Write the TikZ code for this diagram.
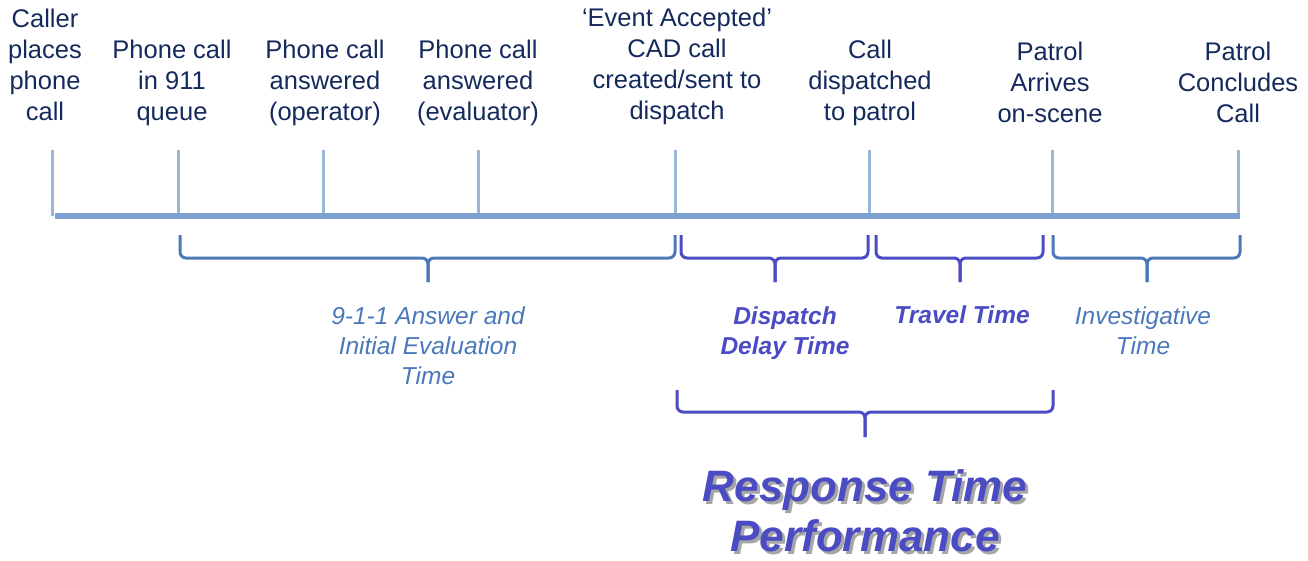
\documentclass[tikz,border=0pt]{standalone}
\usepackage{fontspec}
\setmainfont{Liberation Sans}
\usepackage{tikz}
\usetikzlibrary{positioning}

\definecolor{navy}{HTML}{152A5C}
\definecolor{axisblue}{HTML}{7B9FCF}
\definecolor{tickblue}{HTML}{9AB5D8}
\definecolor{braceblue}{HTML}{4A78B8}
\definecolor{bracepurple}{HTML}{4B4BC4}

\tikzset{
  event/.style={anchor=north, align=center, inner sep=0pt, text=navy,
    font=\fontsize{25.5}{31}\selectfont},
  span/.style={anchor=north, align=center, inner sep=0pt,
    font=\fontsize{24.5}{30}\selectfont\itshape},
  brace/.style={line width=3pt, rounded corners=6pt}
}

\begin{document}
\begin{tikzpicture}[x=1pt,y=-1pt]
\useasboundingbox (0,0) rectangle (1308,560);

% events along the time line
\node[event] (caller) at (45,9) {Caller\\places\\phone\\call};
\node[event] (queue) at (172,40) {Phone call\\in 911\\queue};
\node[event] (operator) at (325,40) {Phone call\\answered\\(operator)};
\node[event] (evaluator) at (478,40) {Phone call\\answered\\(evaluator)};
\node[event] (accepted) at (677,8) {`Event Accepted'\\CAD call\\created/sent to\\dispatch};
\node[event] (dispatched) at (870,40) {Call\\dispatched\\to patrol};
\node[event] (arrives) at (1050,42) {Patrol\\Arrives\\on-scene};
\node[event] (concludes) at (1238,42) {Patrol\\Concludes\\Call};

% axis and ticks
\coordinate (axis-l) at (55,216);
\coordinate (axis-r) at (1240,216);
\foreach \n/\x in {caller/52,queue/178,operator/323,evaluator/478,accepted/675,dispatched/869,arrives/1052,concludes/1238}{
  \coordinate (t-\n) at (\x,150);
  \draw[tickblue, line width=3pt] (t-\n) -- (t-\n |- axis-l);
}
\draw[axisblue, line width=6pt] (axis-l) -- (axis-r);

% braces under the axis
\foreach \xa/\xb/\xm/\c in {180/675/428/braceblue, 681/868/775/bracepurple,
    876/1043/960/bracepurple, 1053/1240/1147/braceblue}{
  \draw[brace, \c] (\xa,235) |- (\xm,258) -- (\xm,282);
  \draw[brace, \c] (\xb,235) |- (\xm,258) -- (\xm,282);
}
\draw[brace, bracepurple] (677,390) |- (865,412) -- (865,437);
\draw[brace, bracepurple] (1053,390) |- (865,412) -- (865,437);

% interval labels
\node[span, text=braceblue] (answer) at (428,307) {9-1-1 Answer and\\Initial Evaluation\\Time};
\node[span, text=bracepurple, font=\fontsize{24.5}{30}\selectfont\bfseries\itshape] (delay) at (785,307) {Dispatch\\Delay Time};
\node[span, text=bracepurple, font=\fontsize{24.5}{30}\selectfont\bfseries\itshape] (travel) at (962,306) {Travel Time};
\node[span, text=braceblue] (invest) at (1143,307) {Investigative\\Time};

\node[span, text=black!35, font=\fontsize{44}{50}\selectfont\bfseries\itshape] (resp-shadow) at (868,472) {Response Time\\Performance};
\node[span, text=bracepurple, font=\fontsize{44}{50}\selectfont\bfseries\itshape] (resp) at (865,469) {Response Time\\Performance};
\end{tikzpicture}
\end{document}
